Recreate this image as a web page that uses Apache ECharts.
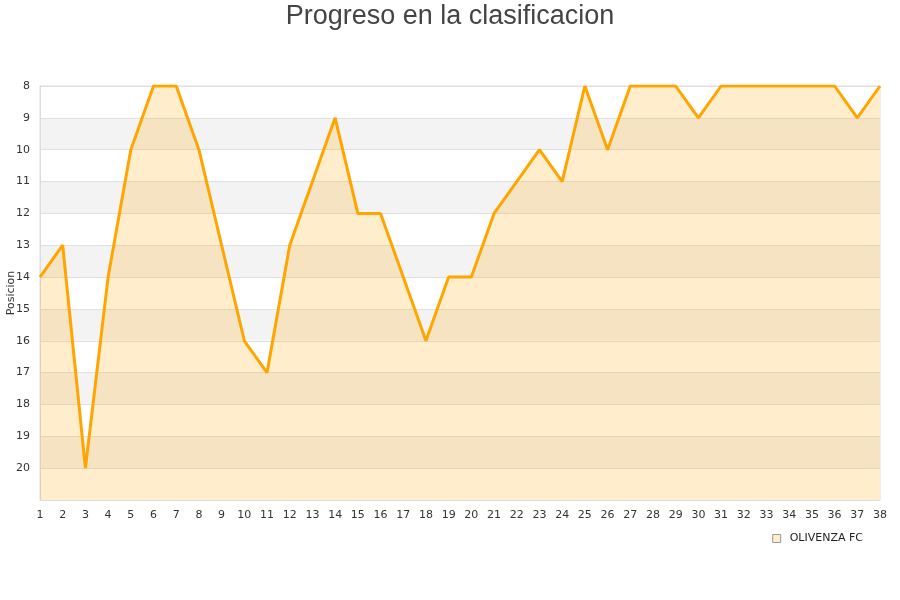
<!DOCTYPE html>
<html><head><meta charset="utf-8">
<script src="https://cdn.jsdelivr.net/npm/echarts@6/dist/echarts.min.js"></script>
<style>html,body{margin:0;padding:0;background:#fff}#c{width:900px;height:600px}</style>
</head><body><div id="c"></div>
<script>
const jornadas = ['1','2','3','4','5','6','7','8','9','10','11','12','13','14','15','16','17','18','19','20','21','22','23','24','25','26','27','28','29','30','31','32','33','34','35','36','37','38'];
const posiciones = [14,13,20,14,10,8,8,10,13,16,17,13,11,9,12,12,14,16,14,14,12,11,10,11,8,10,8,8,8,9,8,8,8,8,8,8,9,8];
const equipo = 'OLIVENZA FC';
const titulo = 'Progreso en la clasificacion';

const chart = echarts.init(document.getElementById('c'));
chart.setOption({
  animation: false,
  title: { text: titulo, left: 'center', top: -2, textStyle: { fontFamily: 'Liberation Sans, Arial, sans-serif', fontSize: 27, fontWeight: 'normal', color: '#444' } },
  legend: {
    data: [{ name: equipo, icon: 'rect' }],
    right: 32, top: 528, itemWidth: 8, itemHeight: 8,
    textStyle: { fontFamily: 'DejaVu Sans, sans-serif', fontSize: 11, color: '#222', padding: [0, 0, 0, 4] },
    itemStyle: { color: '#FFEDCC', borderColor: '#999', borderWidth: 1 }
  },
  grid: { left: 40, right: 20, top: 86, bottom: 100, containLabel: false, outerBoundsMode: 'none', show: true, borderColor: '#ddd', borderWidth: 1 },
  xAxis: {
    type: 'category', data: jornadas, boundaryGap: false,
    axisLine: { show: true, lineStyle: { color: '#ddd' } }, axisTick: { show: false },
    axisLabel: { color: '#333', fontFamily: 'DejaVu Sans, sans-serif', fontSize: 11, margin: 10, interval: 0 }
  },
  yAxis: {
    type: 'value', inverse: true, min: 8, max: 21, interval: 1,
    name: 'Posicion', nameLocation: 'middle', nameGap: 23, nameMoveOverlap: false,
    nameTextStyle: { color: '#333', fontFamily: 'DejaVu Sans, sans-serif', fontSize: 11 },
    axisLine: { show: true, lineStyle: { color: '#ddd' } }, axisTick: { show: false },
    axisLabel: { color: '#333', fontFamily: 'DejaVu Sans, sans-serif', fontSize: 11, margin: 10,
      formatter: v => v === 21 ? '' : String(v) },
    splitLine: { show: true, lineStyle: { color: '#e0e0e0' } },
    splitArea: { show: true, areaStyle: { color: ['#ffffff', '#f3f3f3'] } }
  },
  series: [{
    name: equipo, type: 'line', data: posiciones, showSymbol: false, symbol: 'none',
    lineStyle: { color: '#FFA500', width: 3 },
    itemStyle: { color: '#FFEDCC', borderColor: '#999' },
    areaStyle: { color: '#FFA500', opacity: 0.2, origin: 'end' }
  }]
});
</script></body></html>
